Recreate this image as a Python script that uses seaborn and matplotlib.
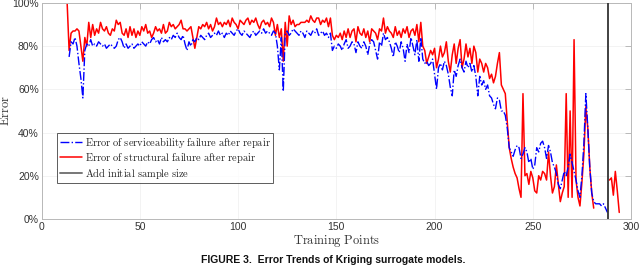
import numpy as np
import pandas as pd
import matplotlib
matplotlib.use('Agg')
import matplotlib.pyplot as plt
from matplotlib.ticker import PercentFormatter
from matplotlib.lines import Line2D
import seaborn as sns

# Training points 13..294
train_points = np.arange(13, 295)

# Error of structural failure after repair (%)
err_structural = [
    100, 78, 86, 87, 87, 88, 87, 80, 73, 84,
    80, 91, 84, 90, 85, 88, 86, 91, 88, 87,
    89, 86, 85, 88, 87, 92, 90, 91, 86, 85,
    88, 84, 89, 85, 88, 84, 87, 85, 89, 87,
    90, 86, 87, 84, 86, 89, 87, 88, 86, 90,
    86, 87, 91, 89, 90, 88, 89, 90, 92, 88,
    88, 87, 88, 89, 84, 79, 84, 89, 88, 90,
    89, 91, 88, 90, 87, 89, 93, 90, 91, 89,
    91, 90, 92, 89, 93, 91, 90, 88, 92, 91,
    90, 92, 93, 90, 92, 91, 93, 90, 88, 91,
    92, 90, 91, 89, 93, 91, 85, 90, 84, 88,
    73, 91, 80, 94, 90, 92, 89, 90, 90, 91,
    91, 91, 92, 91, 94, 92, 91, 93, 93, 90,
    92, 91, 93, 89, 93, 85, 83, 85, 84, 86,
    83, 87, 84, 88, 84, 87, 88, 82, 89, 86,
    85, 88, 84, 87, 82, 88, 87, 86, 83, 88,
    87, 93, 86, 89, 87, 86, 84, 89, 85, 87,
    84, 88, 86, 89, 84, 87, 88, 85, 90, 82,
    91, 80, 78, 72, 75, 78, 76, 79, 70, 74,
    80, 75, 77, 82, 73, 68, 76, 81, 72, 79,
    83, 70, 74, 81, 75, 79, 72, 80, 77, 68,
    74, 72, 68, 72, 70, 65, 67, 63, 66, 72,
    77, 62, 60, 58, 45, 33, 28, 24, 21, 19,
    14, 10, 58, 20, 21, 16, 22, 19, 13, 12,
    20, 18, 22, 21, 18, 31, 20, 12, 15, 25,
    16, 8, 12, 15, 58, 10, 50, 10, 83, 18,
    10, 6, 17, 30, 52, 42, 24, 12, 5, np.nan,
    np.nan, np.nan, np.nan, np.nan, np.nan, np.nan, 18, 19, 11, 22,
    13, 3,
]

# Error of serviceability failure after repair (%)
err_service = [
    np.nan, 75, 82, 81, 84, 80, 72, 65, 56, 78,
    81, 80, 83, 80, 81, 80, 82, 81, 80, 81,
    79, 80, 81, 80, 79, 80, 83, 84, 82, 79,
    81, 79, 80, 81, 79, 80, 81, 80, 82, 81,
    80, 82, 81, 83, 84, 82, 83, 81, 84, 82,
    83, 82, 84, 83, 85, 84, 86, 84, 83, 85,
    81, 78, 82, 80, 83, 82, 84, 83, 85, 84,
    83, 85, 86, 84, 85, 86, 85, 87, 85, 86,
    84, 86, 85, 87, 86, 85, 87, 88, 86, 85,
    87, 86, 85, 84, 86, 87, 85, 86, 87, 86,
    88, 86, 87, 86, 85, 87, 86, 80, 69, 84,
    59, 86, 87, 85, 86, 88, 87, 86, 85, 87,
    86, 84, 87, 86, 85, 87, 86, 88, 85, 86,
    87, 85, 86, 84, 86, 78, 80, 79, 81, 80,
    78, 81, 83, 79, 80, 82, 81, 77, 82, 80,
    79, 82, 80, 76, 81, 83, 82, 78, 74, 82,
    80, 86, 83, 84, 82, 79, 75, 82, 80, 77,
    82, 79, 73, 81, 77, 84, 80, 76, 83, 73,
    84, 74, 72, 73, 71, 72, 74, 67, 60, 70,
    72, 69, 73, 71, 67, 61, 57, 69, 66, 71,
    74, 70, 68, 73, 70, 72, 68, 71, 66, 57,
    66, 62, 64, 60, 62, 57, 56, 53, 51, 56,
    55, 50, 50, 48, 42, 33, 31, 29, 32, 34,
    33, 28, 30, 33, 31, 26, 28, 23, 25, 33,
    31, 35, 36, 33, 28, 34, 31, 26, 24, 21,
    16, 14, 18, 22, 20, 24, 30, 26, 22, 18,
    13, 10, 20, 35, 58, 42, 24, 12, 8, 7,
    7, 7, 6, 7, 5, 3, np.nan, np.nan, np.nan, np.nan,
    np.nan, np.nan,
]

initial_sample_size = 288.5

labels = [r'$\mathrm{Error\ of\ serviceability\ failure\ after\ repair}$',
          r'$\mathrm{Error\ of\ structural\ failure\ after\ repair}$',
          r'$\mathrm{Add\ initial\ sample\ size}$']

sns.set_theme(style='white')
plt.rcParams['font.family'] = ['Liberation Sans', 'DejaVu Sans']
plt.rcParams['mathtext.fontset'] = 'cm'
plt.rcParams['xtick.direction'] = 'in'
plt.rcParams['ytick.direction'] = 'in'

df = pd.DataFrame({'x': train_points, 'structural': err_structural,
                   'service': err_service})


def segments(col):
    # split a series on NaN gaps so the line breaks there
    ok = df[col].notna()
    grp = (ok != ok.shift()).cumsum()
    return [d for _, d in df[ok].groupby(grp[ok])]


fig = plt.figure(figsize=(6.4, 2.66), dpi=100)
ax = fig.add_axes([0.065, 0.177, 0.921, 0.812])

for seg in segments('service'):
    sns.lineplot(data=seg, x='x', y='service', ax=ax, color='#0000ff',
                 linewidth=1.0, linestyle='-.', legend=False, zorder=3)
for seg in segments('structural'):
    sns.lineplot(data=seg, x='x', y='structural', ax=ax, color='#ff0000',
                 linewidth=1.1, legend=False, zorder=2)
ax.axvline(initial_sample_size, color='#333333', linewidth=1.3, zorder=4)

ax.set_xlim(0, 300)
ax.set_ylim(0, 100)
ax.set_xticks(range(0, 301, 50))
ax.set_yticks(range(0, 101, 20))
ax.yaxis.set_major_formatter(PercentFormatter(decimals=0))
ax.tick_params(axis='both', labelsize=7.5, colors='#b0b0b0', labelcolor='#333333',
               length=4, width=0.6, top=True, right=True, pad=2)
ax.grid(True, color='#efefef', linewidth=0.5)
for s in ax.spines.values():
    s.set_color('#b8b8b8')
    s.set_linewidth(0.7)

ax.set_xlabel(r'$\mathrm{Training\ Points}$', fontsize=9, labelpad=1, color='#333333')
ax.set_ylabel(r'$\mathrm{Error}$', fontsize=9, color='#333333')
ax.yaxis.set_label_coords(-0.05, 0.5)

handles = [Line2D([], [], color='#0000ff', linestyle='-.', linewidth=1.0),
           Line2D([], [], color='#ff0000', linewidth=1.1),
           Line2D([], [], color='#777777', linewidth=1.4)]
leg = ax.legend(handles, labels, loc='lower left', bbox_to_anchor=(0.026, 0.165),
                borderaxespad=0, fontsize=7.5, frameon=True, fancybox=False,
                handlelength=2.2, handletextpad=0.2, labelspacing=0.15,
                borderpad=0.25, edgecolor='#333333')
leg.get_frame().set_linewidth(0.7)

fig.text(0.52, 0.004, 'FIGURE 3.  Error Trends of Kriging surrogate models.',
         ha='center', va='bottom', fontsize=7.5, fontweight='bold', color='#111111')

fig.savefig('out.png', dpi=100)
